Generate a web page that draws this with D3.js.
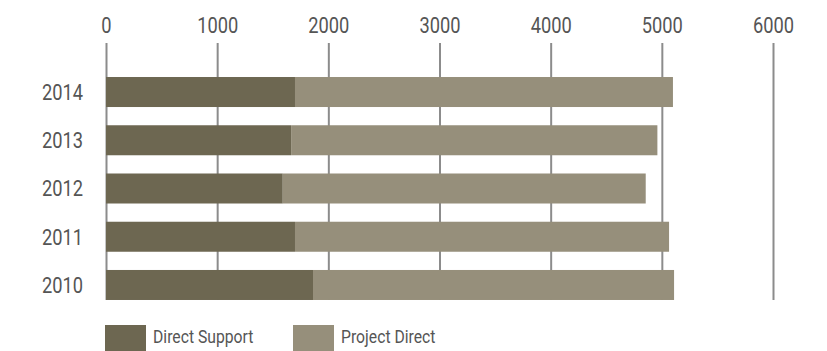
<!DOCTYPE html>
<html lang="en">
<head>
<meta charset="utf-8">
<title>Direct Support / Project Direct</title>
<script src="https://d3js.org/d3.v7.min.js"></script>
<style>
  body { margin: 0; background: #fff; }
  svg text { font-family: Roboto, "Liberation Sans", sans-serif; fill: #555; }
</style>
</head>
<body>
<script>
// chart values
var years = ["2014", "2013", "2012", "2011", "2010"];
var directSupport = [1700, 1665, 1590, 1700, 1862];
var projectDirect = [3400, 3295, 3265, 3365, 3248];
var seriesNames = ["Direct Support", "Project Direct"];
var seriesColors = ["#6d6751", "#968f7b"];
var xTicks = [0, 1000, 2000, 3000, 4000, 5000, 6000];

var width = 827, height = 351;

var svg = d3.select("body").append("svg")
  .attr("width", width)
  .attr("height", height);

var x = d3.scaleLinear().domain([0, 6000]).range([106, 773]);
var y = d3.scaleBand().domain(years)
  .range([67.9, 309.1])
  .paddingInner(0.378)
  .paddingOuter(0.189);

// squeeze text a bit, the original font is a condensed one
function condense(sel, f) {
  sel.each(function() {
    var len = this.getComputedTextLength();
    d3.select(this).attr("textLength", len * f).attr("lengthAdjust", "spacingAndGlyphs");
  });
}

// top axis with gridlines running down behind the bars
var gridTop = 43, gridBottom = 300;
var axis = svg.append("g")
  .attr("transform", "translate(0," + gridTop + ")")
  .call(d3.axisTop(x).tickValues(xTicks).tickFormat(d3.format("d"))
    .tickSizeInner(-(gridBottom - gridTop)).tickSizeOuter(0).tickPadding(10));
axis.select(".domain").remove();
axis.selectAll(".tick line").attr("stroke", "#8c8c8c").attr("stroke-width", 2);
axis.selectAll(".tick text")
  .attr("font-size", 22)
  .attr("fill", "#555")
  .style("font-family", "Roboto, sans-serif")
  .call(condense, 0.83);

// stacked bars
var rows = years.map(function(yr, i) {
  return { year: yr, values: [directSupport[i], projectDirect[i]] };
});

var bars = svg.append("g");
rows.forEach(function(r) {
  var start = 0;
  r.values.forEach(function(v, k) {
    bars.append("rect")
      .attr("x", x(start))
      .attr("y", y(r.year))
      .attr("width", x(start + v) - x(start))
      .attr("height", y.bandwidth())
      .attr("fill", seriesColors[k]);
    start += v;
  });
});

// year labels
svg.append("g").selectAll("text")
  .data(years)
  .enter().append("text")
  .attr("x", 83)
  .attr("y", function(d) { return y(d) + y.bandwidth() / 2 + 7.8; })
  .attr("text-anchor", "end")
  .attr("font-size", 22)
  .text(function(d) { return d; })
  .call(condense, 0.83);

// legend
var legendX = [105, 293];
var legend = svg.append("g").selectAll("g")
  .data(seriesNames)
  .enter().append("g")
  .attr("transform", function(d, i) { return "translate(" + legendX[i] + ",325)"; });

legend.append("rect")
  .attr("width", 41)
  .attr("height", 26)
  .attr("fill", function(d, i) { return seriesColors[i]; });

legend.append("text")
  .attr("x", 48)
  .attr("y", 18)
  .attr("font-size", 18.5)
  .text(function(d) { return d; })
  .call(condense, 0.85);
</script>
</body>
</html>
